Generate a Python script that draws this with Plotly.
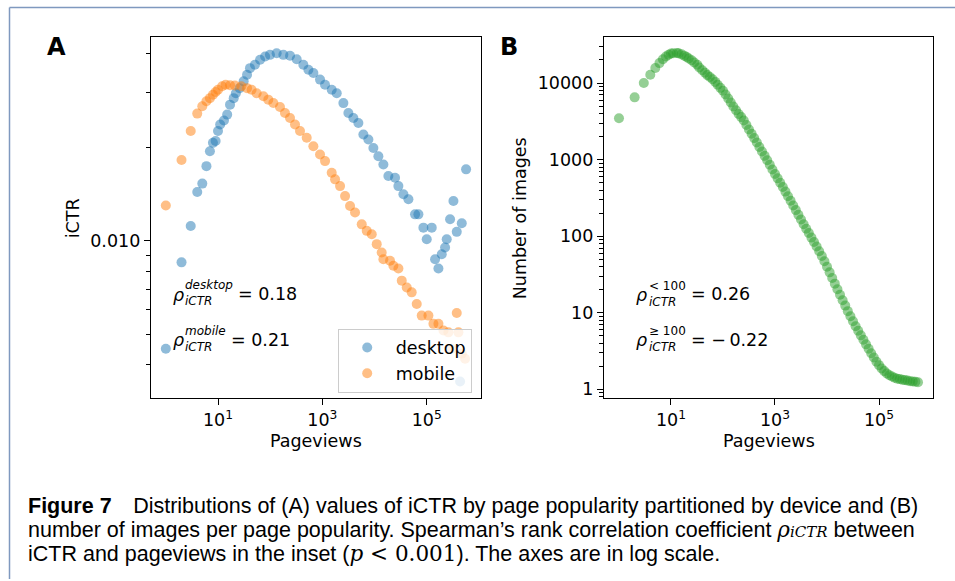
import plotly.graph_objects as go

# ---------------- data ----------------
# Panel A: iCTR by pageviews, desktop
desk_pageviews = [1, 2, 3, 4, 5, 6, 7, 8, 9, 10,
                  11, 13, 15, 17, 20, 22, 26, 31, 36, 41,
                  51, 64, 80, 99, 133, 179, 240, 322, 432, 540,
                  672, 902, 1125, 1510, 1883, 2527, 3150, 3928, 4898, 6107,
                  7614, 9493, 11840, 14760, 18400, 24700, 28640, 35700, 44560, 59700,
                  69200, 86300, 100000, 124700, 144500, 167500, 194000, 224500, 241600, 280000,
                  324500, 375800, 435400, 469000, 567700]
desk_ictr = [0.00450, 0.00853, 0.01117, 0.01436, 0.01528, 0.01739, 0.01942, 0.02066, 0.02096, 0.02256,
             0.02366, 0.02438, 0.02547, 0.02742, 0.02877, 0.02985, 0.03098, 0.03258, 0.03420, 0.03593,
             0.03683, 0.03822, 0.03916, 0.03964, 0.04014, 0.03964, 0.03939, 0.03837, 0.03683, 0.03550,
             0.03466, 0.03300, 0.03177, 0.03063, 0.02985, 0.02773, 0.02576, 0.02483, 0.02393, 0.02198,
             0.02118, 0.01990, 0.01871, 0.01761, 0.01616, 0.01595, 0.01500, 0.01412, 0.01361, 0.01217,
             0.01217, 0.01103, 0.01012, 0.01103, 0.00873, 0.00815, 0.00906, 0.00952, 0.01012, 0.01173,
             0.01343, 0.01069, 0.00353, 0.01139, 0.01698]

# Panel A: iCTR by pageviews, mobile
mob_pageviews = [1, 2, 3, 4, 5, 6, 7, 8, 9, 10,
                 12, 14, 17, 21, 28, 36, 44, 55, 74, 92,
                 115, 154, 192, 240, 299, 373, 501, 672, 902, 1125,
                 1510, 1750, 2183, 2724, 3390, 4227, 5675, 7080, 8830, 11000,
                 13700, 14760, 19800, 22960, 28640, 33200, 41400, 51500, 64300, 80100,
                 107700, 134300, 167500, 209000, 260000, 301500, 375800, 404700, 469000, 543000]
mob_ictr = [0.01300, 0.01820, 0.02256, 0.02566, 0.02710, 0.02812, 0.02877, 0.02951, 0.03012, 0.03063,
            0.03142, 0.03177, 0.03167, 0.03160, 0.03142, 0.03098, 0.03063, 0.02985, 0.02916, 0.02845,
            0.02776, 0.02696, 0.02577, 0.02483, 0.02366, 0.02256, 0.02145, 0.02014, 0.01896, 0.01805,
            0.01655, 0.01577, 0.01500, 0.01393, 0.01294, 0.01233, 0.01130, 0.01077, 0.01050, 0.00976,
            0.00918, 0.00873, 0.00863, 0.00832, 0.00815, 0.00745, 0.00708, 0.00683, 0.00627, 0.00575,
            0.00575, 0.00541, 0.00541, 0.00515, 0.00508, 0.00450, 0.00586, 0.00508, 0.00434, 0.00418]

# Panel B: number of images by pageviews
img_pageviews = [1, 2, 3, 4, 5, 6, 7, 8, 9,
                 10, 11, 13, 14, 16, 18, 20, 22, 25, 28, 32, 35, 40, 45, 50, 56, 63, 71, 79, 89,
                 100, 112, 126, 141, 158, 178, 200, 224, 251, 282, 316, 355, 398, 447, 501, 562, 631, 708, 794, 891,
                 1000, 1122, 1259, 1413, 1585, 1778, 1995, 2239, 2512, 2818, 3162, 3548, 3981, 4467, 5012, 5623,
                 6310, 7079, 7943, 8913,
                 10000, 11220, 12590, 14130, 15850, 17780, 19950, 22390, 25120, 28180, 31620, 35480, 39810, 44670,
                 50120, 56230, 63100, 70790, 79430, 89130,
                 100000, 112200, 125900, 141300, 158500, 177800, 199500, 223900, 251200, 281800, 316200, 354800,
                 398100, 446700, 501200, 562300]
img_count = [3470, 6500, 10000, 12800, 15700, 18200, 20500, 22200, 23400,
             24300, 24500, 24700, 24400, 23700, 22800, 21900, 20900, 19800, 18500, 17300, 16000, 14700, 13600,
             12700, 12000, 11200, 10350, 9510, 8650,
             7940, 7080, 6270, 5560, 4950, 4420, 3950, 3590, 3240, 2830, 2480, 2180, 1910, 1670, 1460, 1280,
             1120, 982, 855, 745,
             650, 569, 499, 438, 382, 333, 290, 252, 219, 190, 165, 143, 125, 110, 95.9, 83.9, 73.3, 63.5, 55.0, 47.0,
             39.8, 33.7, 28.4, 24.0, 20.3, 17.2, 14.6, 12.4, 10.5, 9.0, 7.73, 6.68, 5.81, 5.07, 4.44, 3.87, 3.39,
             2.96, 2.60, 2.30,
             2.07, 1.87, 1.73, 1.61, 1.53, 1.47, 1.42, 1.38, 1.36, 1.33, 1.32, 1.30, 1.28, 1.27, 1.26, 1.24]

# tick labels
x_tickvals = [10, 1000, 100000]
x_ticktext = ["10<sup>1</sup>", "10<sup>3</sup>", "10<sup>5</sup>"]
a_y_tickvals = [0.01]
a_y_ticktext = ["0.010"]
a_y_minor = [0.004, 0.005, 0.006, 0.007, 0.008, 0.009, 0.02, 0.03, 0.04]
b_y_tickvals = [1, 10, 100, 1000, 10000]
b_y_ticktext = ["1", "10", "100", "1000", "10000"]
b_y_minor = [0.8, 0.9] + [m * 10 ** k for k in range(0, 4) for m in range(2, 10)] + [20000, 30000]

# ---------------- layout helpers ----------------
W, H = 955, 581
FONT = "DejaVu Sans"
FS = 17.5


def px(x):
    return x / W


def py(y):
    return 1 - y / H


fig = go.Figure()
mk = dict(size=10, opacity=0.5, line=dict(width=0))
fig.add_trace(go.Scatter(x=desk_pageviews, y=desk_ictr, mode="markers", name="desktop",
                         marker=dict(color="#1f77b4", **mk), xaxis="x", yaxis="y"))
fig.add_trace(go.Scatter(x=mob_pageviews, y=mob_ictr, mode="markers", name="mobile",
                         marker=dict(color="#ff7f0e", **mk), xaxis="x", yaxis="y"))
fig.add_trace(go.Scatter(x=img_pageviews, y=img_count, mode="markers", name="images", showlegend=False,
                         marker=dict(color="#2ca02c", **mk), xaxis="x2", yaxis="y2"))

common = dict(type="log", showline=True, linecolor="black", linewidth=1.3, mirror=True,
              ticks="outside", ticklen=6, tickwidth=1.2, tickcolor="black",
              showgrid=False, zeroline=False, tickmode="array",
              tickfont=dict(family=FONT, size=FS, color="black"))
minor_style = dict(ticks="outside", ticklen=3.5, tickwidth=1, tickcolor="black", showgrid=False)

fig.update_layout(
    width=W, height=H, autosize=False,
    margin=dict(l=0, r=0, t=0, b=0),
    paper_bgcolor="white", plot_bgcolor="white",
    font=dict(family=FONT, size=FS, color="black"),
    xaxis=dict(domain=[px(151), px(480.7)], range=[-0.284, 6.034], anchor="y",
               tickvals=x_tickvals, ticktext=x_ticktext, **common),
    yaxis=dict(domain=[py(399.3), py(37.3)], range=[-2.505, -1.345], anchor="x",
               tickvals=a_y_tickvals, ticktext=a_y_ticktext,
               minor=dict(tickvals=a_y_minor, **minor_style), **common),
    xaxis2=dict(domain=[px(604), px(933.3)], range=[-0.288, 6.044], anchor="y2",
                tickvals=x_tickvals, ticktext=x_ticktext, **common),
    yaxis2=dict(domain=[py(399.3), py(37.3)], range=[-0.112, 4.599], anchor="x2",
                tickvals=b_y_tickvals, ticktext=b_y_ticktext,
                minor=dict(tickvals=b_y_minor, **minor_style), **common),
    legend=dict(x=px(471.7), y=py(394), xanchor="right", yanchor="bottom",
                bgcolor="rgba(255,255,255,0.8)", bordercolor="#cccccc", borderwidth=1,
                font=dict(family=FONT, size=FS, color="black"), itemwidth=47, tracegroupgap=0),
    showlegend=True,
)

ann = []


def text(x, y, s, size=FS, xanchor="left", yanchor="middle", angle=0, family=FONT, align="left"):
    ann.append(dict(x=px(x), y=py(y), xref="paper", yref="paper", text=s, showarrow=False,
                    xanchor=xanchor, yanchor=yanchor, textangle=angle, align=align, borderpad=0,
                    font=dict(family=family, size=size, color="black")))


# panel letters
text(56, 47, "<b>A</b>", size=24, xanchor="center")
text(509, 47, "<b>B</b>", size=24, xanchor="center")
# axis titles
text(316, 443, "Pageviews", xanchor="center")
text(769, 443, "Pageviews", xanchor="center")
text(73, 219, "iCTR", xanchor="center", angle=-90)
text(520, 219, "Number of images", xanchor="center", angle=-90)

SS = 12
# panel A rho annotations (superscript stacked over subscript)
text(172, 296, "<i>ρ</i>")
text(184, 294.5, "<i>desktop</i><br><i>iCTR</i>", size=SS)
text(237, 295.5, "= 0.18")
text(172, 341.5, "<i>ρ</i>")
text(184, 340.5, "<i>mobile</i><br><i>iCTR</i>", size=SS)
text(229.5, 341, "= 0.21")
# panel B rho annotations
text(635, 296, "<i>ρ</i>")
text(648, 295, "&lt; 100<br><i>iCTR</i>", size=SS)
text(689.5, 295.5, "= 0.26")
text(635, 341.5, "<i>ρ</i>")
text(648, 340.5, "≥ 100<br><i>iCTR</i>", size=SS)
text(689.5, 341, "= −\u20090.22")

# caption, one annotation per line
CAP = 21.5
CAPF = "Liberation Sans"
text(27, 508, "<b>Figure 7</b>\u2003Distributions of (A) values of iCTR by page popularity partitioned by device and (B)",
     size=CAP, family=CAPF)
text(27, 531.5, "number of images per page popularity. Spearman’s rank correlation coefficient "
     "<span style='font-family:DejaVu Serif'><i>ρ</i><span style='font-size:15px'><i>iCTR</i></span></span> between",
     size=CAP, family=CAPF)
text(27, 555, "iCTR and pageviews in the inset (<span style='font-family:DejaVu Serif'><i>p</i> &lt; 0.001</span>). "
     "The axes are in log scale.", size=CAP, family=CAPF)

fig.update_layout(annotations=ann)

frame = dict(color="#7f99bf", width=1.5)
fig.update_layout(shapes=[
    dict(type="line", xref="paper", yref="paper", x0=px(9.5), x1=1.0, y0=py(7.5), y1=py(7.5), line=frame),
    dict(type="line", xref="paper", yref="paper", x0=px(9.5), x1=px(9.5), y0=py(7.5), y1=0, line=frame),
])

fig.write_html("out.html", config={"displayModeBar": False},
               post_script="document.body.style.margin='0';document.body.style.overflow='hidden';")
